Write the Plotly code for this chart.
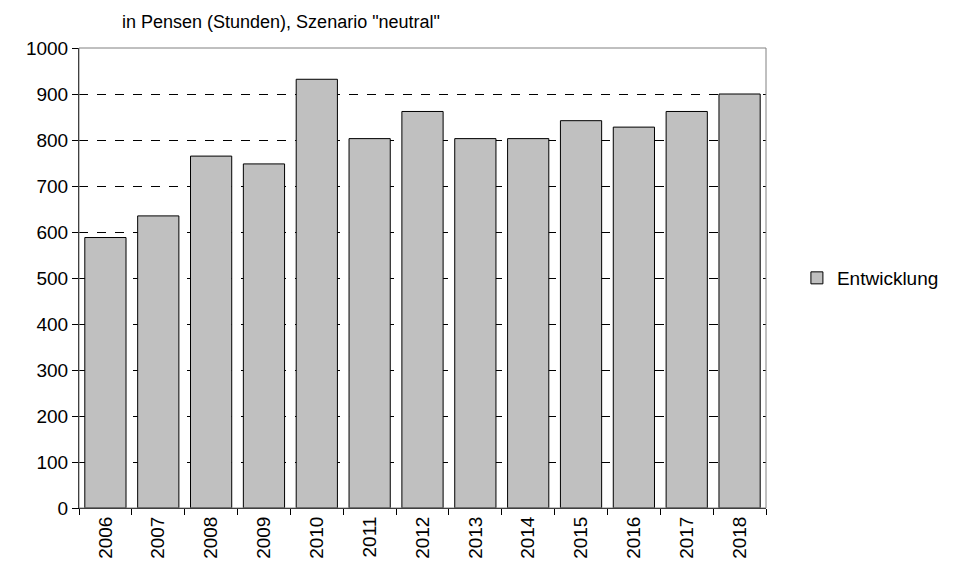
import plotly.graph_objects as go

years = [str(y) for y in range(2006, 2019)]
values = [588, 635, 765, 748, 932, 803, 862, 803, 803, 842, 828, 862, 900]

fig = go.Figure(go.Bar(x=years, y=values, name="Entwicklung",
    marker=dict(color="#c0c0c0", line=dict(color="black", width=1)), width=0.78))
fig.update_layout(
    width=976, height=583, plot_bgcolor="white", paper_bgcolor="white",
    margin=dict(l=71, r=218, t=40, b=83),
    font=dict(family="Liberation Sans, Arial", size=19, color="black"),
    showlegend=True,
    legend=dict(x=1.045, y=0.5, yanchor="middle", font=dict(size=19), itemwidth=30),
    annotations=[dict(text='in Pensen (Stunden), Szenario "neutral"', xref="paper", yref="paper",
                      x=0.06, y=1.03, xanchor="left", yanchor="bottom", showarrow=False,
                      font=dict(size=18))],
)
fig.update_xaxes(tickangle=-90, showline=True, linecolor="black", mirror=False,
                 ticks="outside", ticklen=6, tickcolor="black", tickson="boundaries")
fig.update_yaxes(range=[0, 1000], dtick=100, showgrid=True, gridcolor="black",
                 griddash="dash", gridwidth=1, showline=True, linecolor="black",
                 ticks="outside", ticklen=6, tickcolor="black", zeroline=False)
fig.add_shape(type="rect", xref="paper", yref="paper", x0=0, y0=0, x1=1, y1=1,
              line=dict(color="#808080", width=1))
fig.write_html("out.html")
